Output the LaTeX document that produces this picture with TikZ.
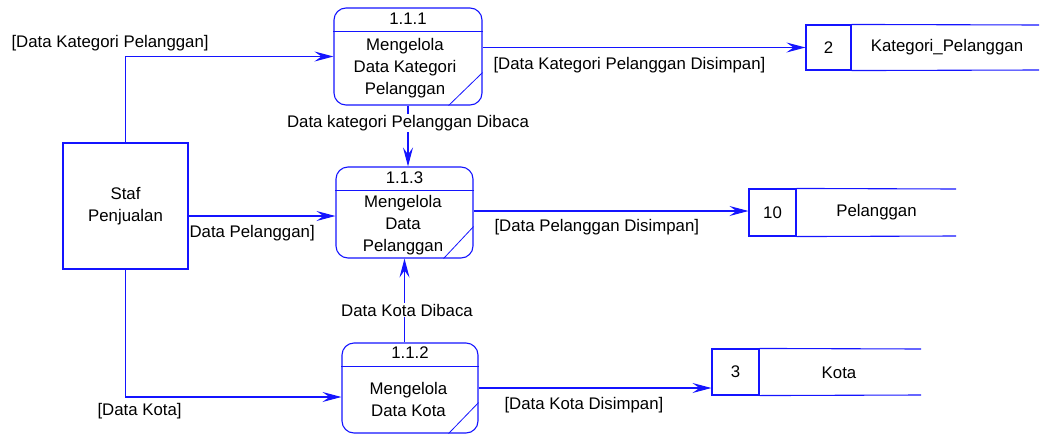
\documentclass[tikz,border=0pt]{standalone}
\usepackage{fontspec}
\setmainfont{Liberation Sans}
\usetikzlibrary{arrows.meta,calc}
\definecolor{dfd}{RGB}{20,20,255}
\begin{document}
\begin{tikzpicture}[x=1pt,y=-1pt,
  font=\fontsize{16.8}{22}\selectfont,
  every path/.style={line width=1.1pt},
  proc/.style={draw=dfd, rounded corners=12pt, inner sep=0pt},
  ext/.style={draw=dfd, inner sep=0pt, minimum width=125pt, minimum height=126pt, align=center},
  storeid/.style={draw=dfd, inner sep=0pt},
  flow/.style={draw=dfd, -{Stealth[length=19pt,width=10pt,inset=7pt]}},
  lbl/.style={inner sep=0pt, anchor=west},
  mlbl/.style={inner sep=1pt, fill=white},
  txt/.style={inner sep=0pt, align=center}]
\useasboundingbox (0,0) rectangle (1041,434);

% processes
\node[proc, minimum width=148pt, minimum height=97pt] (p1) at (408,56.5) {};
\node[proc, minimum width=137pt, minimum height=91pt] (p3) at (404.5,212.5) {};
\node[proc, minimum width=136pt, minimum height=90pt] (p2) at (410,388) {};
\draw[dfd] ($(p1.north west)+(0,24)$) -- ($(p1.north east)+(0,24)$);
\draw[dfd] ($(p3.north west)+(0,24)$) -- ($(p3.north east)+(0,24)$);
\draw[dfd] ($(p2.north west)+(0,24)$) -- ($(p2.north east)+(0,24)$);
\draw[dfd,line width=0.8pt] ($(p1.south east)+(0,-33)$) -- ($(p1.south east)+(-34,0)$);
\draw[dfd,line width=0.8pt] ($(p3.south east)+(0,-32)$) -- ($(p3.south east)+(-30,0)$);
\draw[dfd,line width=0.8pt] ($(p2.south east)+(0,-31)$) -- ($(p2.south east)+(-30,0)$);
\node[txt] (p1id) at (408,19) {1.1.1};
\node[txt] (p3id) at (404.5,178) {1.1.3};
\node[txt] (p2id) at (410,353) {1.1.2};
\node[txt] (p1tx) at (405,68) {Mengelola\\Data Kategori\\Pelanggan};
\node[txt] (p3tx) at (403,225) {Mengelola\\Data\\Pelanggan};
\node[txt] (p2tx) at (408.5,399) {Mengelola\\Data Kota};

% external entity
\node[ext] (st) at (125.5,206) {Staf\\Penjualan};

% data stores
\node[storeid, minimum width=45pt, minimum height=45pt] (s1) at (828.5,47.5) {2};
\draw[dfd] (s1.north east) -- (1039,25) (s1.south east) -- (1039,70);
\node[txt] (s1n) at (947,47) {Kategori\_Pelanggan};
\node[storeid, minimum width=47pt, minimum height=47pt] (s2) at (772.5,212.5) {10};
\draw[dfd] (s2.north east) -- (956,189) (s2.south east) -- (956,236);
\node[txt] (s2n) at (876.5,212.5) {Pelanggan};
\node[storeid, minimum width=47pt, minimum height=46pt] (s3) at (735.5,372) {3};
\draw[dfd] (s3.north east) -- (921,349) (s3.south east) -- (921,395);
\node[txt] (s3n) at (839,373) {Kota};

% flows
\draw[flow] (st.north) |- (p1.west);
\draw[flow] ([yshift=-3.5pt]st.east |- p3.west) -- ([yshift=-3.5pt]p3.west);
\draw[flow] (st.south) |- ([yshift=-9pt]p2.west);
\draw[flow] (s1.west -| p1.east) -- (s1.west);
\draw[flow] ([yshift=1.5pt]s2.west -| p3.east) -- ([yshift=1.5pt]s2.west);
\draw[flow] (p2.east) -- (p2.east -| s3.west);
\draw[flow] (p1.south) -- (p1.south |- p3.north);
\draw[flow] (p3.south |- p2.north) -- (p3.south);

% labels
\node[lbl] (l1) at (11,43) {[Data Kategori Pelanggan]};
\node[lbl] (l2) at (493,65) {[Data Kategori Pelanggan Disimpan]};
\node[mlbl] (l3) at (408,123) {Data kategori Pelanggan Dibaca};
\node[lbl] (l4) at (189,233) {Data Pelanggan]};
\node[lbl] (l5) at (494,227) {[Data Pelanggan Disimpan]};
\node[mlbl] (l6) at (407,310) {Data Kota Dibaca};
\node[lbl] (l7) at (97,411) {[Data Kota]};
\node[lbl] (l8) at (504,405) {[Data Kota Disimpan]};
\end{tikzpicture}
\end{document}
